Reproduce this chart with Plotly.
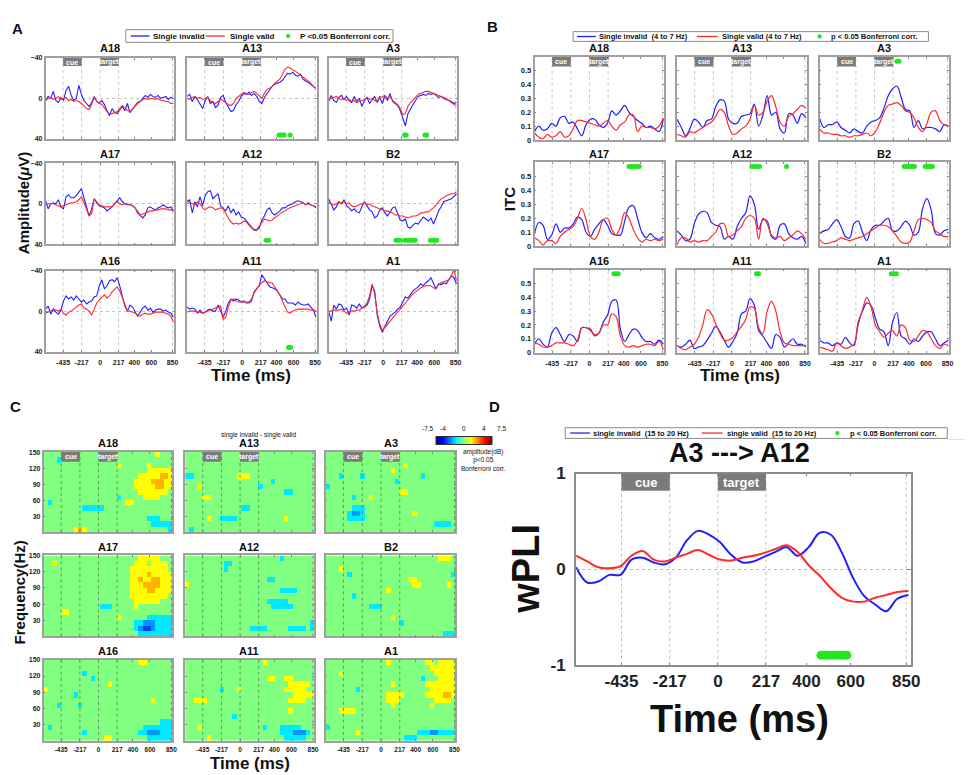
import plotly.graph_objects as go

W, H = 972, 775
FONT = "Liberation Sans"
BLUE = "#1f1fff"
RED = "#ff2a2a"
GREEN = "#22e622"
JET = [[0, "rgb(0,0,128)"], [0.125, "rgb(0,0,255)"], [0.375, "rgb(0,255,255)"],
       [0.5, "rgb(128,255,128)"], [0.625, "rgb(255,255,0)"], [0.875, "rgb(255,0,0)"],
       [1, "rgb(128,0,0)"]]

# time axes (ms)
TIME_ERP = list(range(-640, 861, 30))
TIME_ITC = list(range(-640, 861, 50))
TF_TIME_EDGES = list(range(-640, 861, 50))
TF_FREQ_EDGES = list(range(0, 151, 10))
TIME_TICKS = [-435, -217, 0, 217, 400, 600, 850]
EVENT_LINES = [-435, -217, 0, 217, 850]
CHANNELS = ["A18", "A13", "A3", "A17", "A12", "B2", "A16", "A11", "A1"]

#### A : ERP amplitude (uV), single invalid / single valid
ERP_A18_INV = [2, -2, 0, -7, 2, 4, -1, 2, -8, -12, -3, 2, 0, -13, -4, 2, 5, 8, 4, -2, 3, 5, 2, 6, 12,
               17, 10, 14, 15, 11, 8, 12, 5, 14, 10, 7, 4, 3, 0, -3, -1, -4, -2, -1, -3, 0, -1, -2, 1, -1, 0]
ERP_A18_VAL = [2, 0, -1, 1, 0, -2, 1, 0, -1, 2, 1, 3, 2, 3, 5, 7, 10, 11, 6, -1, 3, 5, 6, 10, 13,
               15, 15, 14, 13, 10, 7, 9, 12, 13, 10, 7, 5, 3, 1, 0, 1, 0, 0, 1, 0, 2, 2, 3, 3, 5, 5]
ERP_A13_INV = [-2, -4, 3, -2, 1, 5, 10, 2, -2, 5, 3, 9, 7, -1, -3, 4, 8, 13, 12, 6, 3, -2, -5, -4, -6,
               -3, -5, -2, 3, 5, -1, -5, -8, -12, -14, -15, -16, -18, -22, -25, -24, -26, -23, -22, -24,
               -19, -17, -16, -14, -12, -10]
ERP_A13_VAL = [0, 1, -1, -2, 0, -1, 1, 0, -1, 2, 4, 5, 3, 1, 2, 4, 6, 7, 5, 0, -2, -4, -6, -5, -4,
               -6, -7, -5, -2, 0, -5, -9, -10, -12, -15, -17, -19, -24, -29, -31, -30, -28, -27, -25, -23,
               -21, -19, -17, -15, -12, -10]
ERP_A3_INV = [3, -3, 2, 4, -1, -3, 1, -2, 2, 4, -2, 3, 0, 8, 2, -1, 5, 2, -2, 4, -1, 5, -3, 2, -5,
              3, 5, 7, 12, 20, 27, 15, 10, 6, 2, -2, -3, -4, -3, -5, -4, -5, -3, -1, -2, 0, 1, 2, 3, 5, 4]
ERP_A3_VAL = [1, 0, -1, -2, 0, 1, 0, 2, 1, 3, 2, 4, 3, 2, 1, -1, 1, 0, 2, 3, -2, -1, -3, 0, -2,
              2, 4, 6, 10, 16, 15, 8, 4, 1, -2, -4, -5, -6, -7, -7, -6, -5, -4, -3, -2, -1, 0, 2, 4, 6, 7]
ERP_A17_INV = [-3, 5, 0, -1, 0, -4, 3, 5, -7, -9, -6, -6, -8, -12, -15, -6, 4, 12, 5, -5, -1, 2, 3, 4, 7,
               5, 3, 0, -3, -6, -2, 0, 1, 1, 2, 4, 9, 12, 14, 11, 4, 3, 5, 6, 4, 3, 1, 3, 4, 3, 7]
ERP_A17_VAL = [0, 0, 0, 0, 1, 2, 3, 2, 1, 0, -1, -1, -2, -4, -7, -1, 5, 12, 10, -5, -2, 1, 2, 3, 3,
               3, 3, 0, -2, 0, 1, 0, 0, 1, 2, 4, 8, 11, 10, 9, 8, 7, 7, 6, 6, 5, 5, 5, 6, 6, 7]
ERP_A12_INV = [-2, -4, 9, -2, 3, -7, 2, -8, -12, -13, -5, -8, -10, 2, 5, 7, 2, 9, 5, 11, 8, 13, 14, 17, 19,
               22, 26, 26, 24, 16, 12, 6, 4, 9, 11, 9, 7, 4, 4, 2, 1, 0, -2, -3, -2, -1, 1, -1, 1, 2, 4]
ERP_A12_VAL = [-4, -1, 0, 1, -2, 0, 4, 6, 4, 3, 4, 6, 5, 4, 5, 10, 14, 18, 20, 19, 20, 19, 17, 18, 21,
               24, 25, 26, 22, 18, 15, 16, 17, 16, 14, 12, 10, 8, 7, 5, 4, 3, 2, 1, 0, -1, 1, 0, 1, 2, 3]
ERP_B2_INV = [-5, 0, 6, 3, -2, 0, -4, 2, 4, 7, 5, 8, 9, 3, -2, 2, 6, 8, 14, 12, 6, 4, 9, 12, 8,
              4, 3, 10, 16, 17, 15, 23, 24, 21, 19, 20, 16, 13, 15, 17, 14, 20, 14, 7, 3, -2, -3, -4, -5, -7, -10]
ERP_B2_VAL = [-2, 0, 1, 0, -2, -1, -2, 0, -1, 2, 3, 2, 1, 0, -1, 1, 0, 2, 3, 4, 5, 6, 7, 7, 8,
              9, 11, 11, 12, 12, 13, 14, 13, 12, 12, 11, 9, 9, 8, 8, 6, 4, 1, -2, -5, -6, -8, -9, -10, -10, -12]
ERP_A16_INV = [-2, -5, 3, -2, 1, 3, -1, -10, -15, -12, -14, -11, -15, -12, -9, -11, -7, -9, -10, -14, -15, -25, -31, -22, -25,
               -30, -31, -29, -33, -25, -15, -5, 0, -6, -4, 0, 5, 1, -3, -5, -1, -3, 1, -1, -2, -2, 0, -1, 1, 2, 6]
ERP_A16_VAL = [2, 1, 0, -2, -1, 0, -2, 2, 4, 1, 0, -2, -4, -6, -7, -3, -2, 0, 4, -3, -8, -11, -14, -16, -13,
               -15, -19, -22, -24, -20, -13, -6, 0, 0, 1, 2, 4, 5, 3, 2, 3, 3, 2, 1, 1, 1, 1, 2, 3, 5, 11]
ERP_A11_INV = [-4, -2, -3, -2, 2, -1, 2, 1, -1, -2, 0, 0, -6, 1, 6, 0, -8, -12, -10, -12, -11, -9, -10, -8, -8,
               -10, -19, -22, -25, -36, -32, -28, -24, -23, -22, -20, -16, -12, -12, -8, -8, -8, -6, -9, -7,
               -6, -6, -7, -4, -1, 6]
ERP_A11_VAL = [1, 0, 0, 0, 1, 1, 2, 1, 0, -1, -2, -3, -4, -5, 8, 6, -4, -11, -12, -10, -9, -9, -9, -9, -9,
               -12, -18, -22, -26, -28, -30, -29, -28, -28, -24, -21, -16, -10, -4, 1, 2, 0, -1, -2, -2,
               -2, -2, -2, -1, -1, 0]
ERP_A1_INV = [0, 10, -6, -2, -7, -6, -1, -3, 4, -6, -5, -3, -7, -3, -4, -6, -12, -25, -20, 4, 15, 21, 15, 10, 5,
              3, 1, -2, -4, -9, -14, -13, -17, -20, -22, -24, -27, -25, -28, -30, -33, -28, -22, -27, -26,
              -28, -27, -31, -35, -33, -27]
ERP_A1_VAL = [0, 0, -1, -1, -1, -2, 0, 2, 1, 0, 0, -1, -1, -3, -5, -8, -15, -27, -17, 2, 13, 19, 16, 13, 10,
              7, 3, 0, -2, -5, -8, -12, -14, -17, -19, -21, -23, -24, -25, -25, -25, -23, -22, -26, -28,
              -29, -30, -31, -35, -41, -30]

# times (ms) with p < 0.05
ERP_A18_SIG = []
ERP_A13_SIG = [430, 450, 470, 490, 560]
ERP_A3_SIG = [250, 270, 490, 510]
ERP_A17_SIG = []
ERP_A12_SIG = [280, 310]
ERP_B2_SIG = [150, 175, 195, 250, 275, 300, 325, 350, 375, 555, 580, 605, 630]
ERP_A16_SIG = []
ERP_A11_SIG = [540, 565]
ERP_A1_SIG = []

#### B : ITC 4-7 Hz
ITC_A18_INV = [.06, .10, .07, .08, .12, .10, .16, .17, .12, .13, .08, .03, .11, .15, .15, .11,
               .09, .12, .21, .18, .21, .25, .20, .17, .14, .12, .09, .10, .08, .06, .15]
ITC_A18_VAL = [.05, .02, .01, .04, .02, .03, .06, .02, .03, .08, .14, .14, .13, .12, .11, .10,
               .12, .14, .10, .07, .11, .13, .18, .18, .06, .10, .09, .09, .08, .10, .16]
ITC_A13_INV = [.15, .09, .03, .08, .15, .13, .09, .14, .15, .24, .29, .28, .15, .12, .12, .17,
               .18, .19, .26, .10, .18, .32, .18, .20, .08, .05, .19, .18, .12, .19, .16]
ITC_A13_VAL = [.04, .03, .02, .06, .05, .07, .09, .11, .13, .17, .22, .20, .10, .04, .05, .08,
               .10, .15, .25, .18, .20, .28, .32, .24, .13, .10, .17, .19, .22, .25, .23]
ITC_A3_INV = [.16, .09, .11, .11, .13, .09, .07, .05, .08, .06, .05, .10, .13, .14, .16, .23,
              .32, .37, .39, .31, .22, .21, .09, .14, .08, .09, .09, .08, .06, .11, .10]
ITC_A3_VAL = [.08, .05, .05, .04, .04, .03, .03, .02, .03, .03, .04, .05, .03, .06, .12, .20,
              .25, .26, .27, .25, .21, .20, .16, .09, .06, .12, .20, .21, .14, .11, .10]
ITC_A17_INV = [.09, .17, .15, .05, .08, .16, .10, .13, .13, .16, .21, .19, .10, .07, .12, .16,
               .19, .15, .09, .08, .08, .18, .28, .29, .20, .10, .06, .09, .06, .05, .07]
ITC_A17_VAL = [.06, .04, .01, .04, .04, .02, .07, .10, .12, .14, .20, .27, .19, .07, .05, .10,
               .19, .20, .12, .08, .14, .24, .20, .12, .06, .03, .05, .04, .05, .04, .05]
ITC_A12_INV = [.11, .08, .04, .05, .16, .23, .25, .24, .17, .15, .14, .05, .07, .05, .14, .20,
               .24, .36, .30, .12, .19, .18, .07, .05, .15, .16, .09, .06, .05, .07, .02]
ITC_A12_VAL = [.01, .06, .06, .03, .04, .03, .04, .04, .07, .10, .16, .16, .07, .08, .11, .14,
               .20, .22, .20, .05, .20, .16, .08, .06, .07, .04, .06, .08, .11, .09, .05]
ITC_B2_INV = [.09, .11, .12, .16, .19, .14, .07, .06, .16, .18, .10, .04, .12, .15, .15, .18,
              .20, .11, .11, .14, .18, .15, .08, .10, .27, .34, .26, .09, .08, .11, .12]
ITC_B2_VAL = [.05, .02, .02, .03, .04, .06, .05, .04, .05, .06, .07, .09, .11, .13, .15, .15,
              .14, .11, .07, .03, .02, .03, .11, .19, .20, .19, .17, .11, .09, .07, .07]
ITC_A16_INV = [.06, .10, .06, .04, .14, .18, .13, .08, .13, .12, .08, .18, .18, .17, .12, .14,
               .22, .27, .37, .38, .17, .08, .13, .17, .16, .11, .08, .08, .06, .09, .06]
ITC_A16_VAL = [.07, .06, .04, .04, .05, .07, .07, .07, .06, .05, .09, .18, .18, .16, .13, .14,
               .20, .20, .28, .26, .12, .05, .04, .05, .04, .05, .06, .06, .05, .08, .02]
ITC_A11_INV = [.05, .04, .06, .09, .03, .04, .05, .09, .14, .19, .15, .09, .04, .08, .14, .28,
               .30, .39, .34, .16, .12, .07, .03, .13, .11, .04, .07, .10, .06, .06, .04]
ITC_A11_VAL = [.05, .03, .02, .04, .06, .11, .20, .31, .28, .21, .14, .09, .09, .11, .15, .19,
               .24, .33, .32, .18, .14, .30, .37, .30, .15, .07, .06, .05, .05, .05, .05]
ITC_A1_INV = [.09, .07, .07, .05, .07, .06, .11, .07, .05, .22, .30, .36, .34, .25, .17, .15,
              .05, .22, .29, .12, .10, .06, .10, .08, .12, .15, .15, .10, .05, .07, .09]
ITC_A1_VAL = [.04, .03, .02, .01, .07, .05, .03, .04, .06, .20, .31, .40, .33, .20, .15, .11,
              .14, .16, .12, .20, .18, .09, .08, .12, .16, .15, .10, .05, .03, .06, .05]

ITC_A18_SIG = []
ITC_A13_SIG = []
ITC_A3_SIG = [260, 285]
ITC_A17_SIG = [460, 490, 520, 550, 580]
ITC_A12_SIG = [230, 260, 290, 320, 635]
ITC_B2_SIG = [345, 375, 405, 435, 465, 590, 620, 650, 675]
ITC_A16_SIG = [285, 310, 335]
ITC_A11_SIG = [285, 310]
ITC_A1_SIG = [195, 225, 255]

#### C : time-frequency difference maps (rows 150 Hz -> 0 Hz, 50 ms columns)
CELL_VALUES = {".": 0.0, "y": 1.9, "o": 3.0, "r": 4.5, "c": -2.2, "b": -3.4, "B": -4.6}

TF_A18 = [
    "..........................y...",
    "...c..........................",
    ".................y......y.....",
    "........................yyyyyy",
    "......................yyyyyooy",
    ".....................yyyyoooyy",
    ".....................yyyyyooyy",
    "......................yyyyyyy.",
    ".................c.....yyyy...",
    ".c.................yy.........",
    ".........ccccc................",
    "..............................",
    "........................ccc...",
    ".........................ccccc",
    ".......yoy...................c",
]
TF_A13 = [
    "...............y..............",
    "..............................",
    "..............................",
    "..............................",
    "cc..........yyy...............",
    "....................c.........",
    "...y.............c............",
    ".......................cc.....",
    "....yy........................",
    "..............................",
    ".............cc...............",
    "..............................",
    ".....y..cccc...........y......",
    "..............................",
    ".c............................",
]
TF_A3 = [
    "..............................",
    "..............................",
    "..................y...........",
    "...............y..............",
    "...c....c.............c.......",
    "................c.............",
    "c.............................",
    ".................yy...........",
    "......c...y...................",
    "..............................",
    "......ccc.....................",
    ".....cbbc...........y.........",
    ".....cccc.....................",
    ".........................cccc.",
    "..............................",
]
TF_A17 = [
    "......................yyyyy...",
    "..y..................yyy.yyyy.",
    "....................yyyyyyyyy.",
    "....................yyyyoyyyyy",
    "....................yyoyyooyyy",
    "....................yyyooooyyy",
    "....................yyyyooyyyy",
    "....................yyyyyyyyy.",
    ".....................yyyyyy...",
    ".............ccc.....y........",
    "....yy........................",
    ".................y......cccccc",
    ".....................ccbbbcccc",
    ".....................cbBBbcccc",
    "......................cccccccc",
]
TF_A12 = [
    "......................c.......",
    ".........cc...................",
    ".........c....................",
    "..............................",
    "...................cc.........",
    "y.............................",
    "......................cccc....",
    "..............................",
    "...................ccccc......",
    "....................ccccc.....",
    "..............................",
    "..............................",
    ".............................c",
    "...............cccc.....cccc.c",
    "..............................",
]
TF_B2 = [
    "..........................yyy.",
    "..............................",
    "...y..........................",
    ".....c.......................c",
    "...................yy.........",
    "....................yy......y.",
    "..............y...............",
    "......c.......................",
    "..............................",
    "..........ccc.................",
    "..............................",
    "...............y..............",
    ".................c............",
    "..............................",
    "...........................ccc",
]
TF_A16 = [
    "......................yy......",
    "..............................",
    ".........c....................",
    "...........c..................",
    "...............y..............",
    "y.............................",
    ".......c......................",
    ".........................y....",
    "...c....c.....................",
    "..............................",
    "..............................",
    "...........................ccc",
    ".c.....................ccccccc",
    ".........c............ccbbbccc",
    "..............yy........cccccc",
]
TF_A11 = [
    "..................y...........",
    "..............................",
    "..............................",
    "...................yy..yy.....",
    "........................yyyyy.",
    "........c...y..........yyyyy..",
    ".........................yyyyy",
    "..yyy...................yyyy..",
    "..............................",
    "........................y.....",
    "...........c..................",
    "..............................",
    "...y..............c...ccccc...",
    "......................cccbbbc.",
    ".....y.................ccccc..",
]
TF_A1 = [
    "..............y........yy.yyyy",
    "........................yyyyyy",
    "...y.....................yyyyy",
    "......................c...yyyy",
    "...............y.......yyyyyyy",
    ".......c................yyyyyy",
    "..............yyyy.....yyyyooy",
    "..............yyy........yyyy.",
    "...............y........y.....",
    "...yyyy.......................",
    "..............................",
    "..............................",
    "c.............................",
    ".......y.............cccbbcccc",
    "..................ccc.........",
]

#### D : wPLI A3 ---> A12 (15-20 Hz)
WPLI_INV = [.02, -.14, -.13, -.06, -.06, .10, .12, .07, .05, .12, .30, .40, .36, .28, .15, .07,
            .08, .13, .18, .23, .14, .23, .38, .36, .17, -.09, -.28, -.37, -.44, -.31, -.27]
WPLI_VAL = [.14, .08, .02, .01, .03, .14, .19, .10, .08, .12, .16, .20, .15, .10, .09, .12,
            .14, .17, .21, .25, .18, .04, -.07, -.20, -.30, -.34, -.34, -.30, -.27, -.24, -.23]
WPLI_SIG = [465, 480, 495, 510, 525, 540, 555, 570, 582]

ERP_SETS = [
    (ERP_A18_INV, ERP_A18_VAL, ERP_A18_SIG), (ERP_A13_INV, ERP_A13_VAL, ERP_A13_SIG),
    (ERP_A3_INV, ERP_A3_VAL, ERP_A3_SIG), (ERP_A17_INV, ERP_A17_VAL, ERP_A17_SIG),
    (ERP_A12_INV, ERP_A12_VAL, ERP_A12_SIG), (ERP_B2_INV, ERP_B2_VAL, ERP_B2_SIG),
    (ERP_A16_INV, ERP_A16_VAL, ERP_A16_SIG), (ERP_A11_INV, ERP_A11_VAL, ERP_A11_SIG),
    (ERP_A1_INV, ERP_A1_VAL, ERP_A1_SIG),
]
ITC_SETS = [
    (ITC_A18_INV, ITC_A18_VAL, ITC_A18_SIG), (ITC_A13_INV, ITC_A13_VAL, ITC_A13_SIG),
    (ITC_A3_INV, ITC_A3_VAL, ITC_A3_SIG), (ITC_A17_INV, ITC_A17_VAL, ITC_A17_SIG),
    (ITC_A12_INV, ITC_A12_VAL, ITC_A12_SIG), (ITC_B2_INV, ITC_B2_VAL, ITC_B2_SIG),
    (ITC_A16_INV, ITC_A16_VAL, ITC_A16_SIG), (ITC_A11_INV, ITC_A11_VAL, ITC_A11_SIG),
    (ITC_A1_INV, ITC_A1_VAL, ITC_A1_SIG),
]
TF_SETS = [TF_A18, TF_A13, TF_A3, TF_A17, TF_A12, TF_B2, TF_A16, TF_A11, TF_A1]

# panel placement in pixels
A_COLS = [(38, 168), (181, 312), (324, 454)]
A_ROWS = [(42, 125), (150, 233), (260, 343)]
B_COLS = [(532, 663), (676, 807), (820, 951)]
B_ROWS = [(41, 126), (149, 235), (259, 344)]
C_COLS = [(36, 166), (179, 309), (321, 452)]
C_ROWS = [(446, 528), (552, 635), (659, 742)]
AB_TITLE_Y = [32, 140, 250]
C_TITLE_Y = [437, 543, 650]

fig = go.Figure()
axes = {}
shapes = []
annotations = []
counter = [0]


def text(x, y, s, size, angle=0, anchor="center", color="#111111"):
    annotations.append(dict(x=x / W, y=1 - y / H, xref="paper", yref="paper", text=s,
                            showarrow=False, textangle=angle, xanchor=anchor, yanchor="middle",
                            borderpad=0, font=dict(family=FONT, size=size, color=color)))


def new_axes(cols, rows, xaxis, yaxis):
    counter[0] += 1
    n = counter[0]
    sfx = "" if n == 1 else str(n)
    x0, x1 = cols
    y0, y1 = rows
    axes["xaxis" + sfx] = dict(domain=[x0 / W, x1 / W], anchor="y" + sfx, **xaxis)
    axes["yaxis" + sfx] = dict(domain=[1 - y1 / H, 1 - y0 / H], anchor="x" + sfx, **yaxis)
    return "x" + sfx, "y" + sfx


def time_axis(show_labels, size=7, xmax=870, line="#a0a0a0", lw=1.5, standoff=3):
    return dict(range=[-640, xmax], tickvals=TIME_TICKS, ticktext=[str(v) for v in TIME_TICKS],
                showticklabels=show_labels, ticks="inside", ticklen=2, tickcolor="#888888",
                tickfont=dict(family=FONT, size=size, color="#222222", weight="bold"),
                showgrid=False, zeroline=False, showline=True, mirror="ticks",
                linecolor=line, linewidth=lw, ticklabelstandoff=standoff)


def event_lines(xr, yr, color, dash, layer, width=1):
    for v in EVENT_LINES:
        shapes.append(dict(type="line", xref=xr, yref=yr + " domain", x0=v, x1=v, y0=0, y1=1,
                           line=dict(color=color, width=width, dash=dash), layer=layer))


def cue_boxes(xr, yr, y0, size):
    for a, b, label in [(-435, -217, "cue"), (0, 217, "target")]:
        shapes.append(dict(type="rect", xref=xr, yref=yr + " domain", x0=a, x1=b, y0=y0, y1=1,
                           fillcolor="#7b7b7b", line=dict(width=0), layer="above"))
        annotations.append(dict(xref=xr, yref=yr + " domain", x=(a + b) / 2, y=(y0 + 1) / 2,
                                xanchor="center", yanchor="middle", borderpad=0,
                                text="<b>" + label + "</b>", showarrow=False,
                                font=dict(family=FONT, size=size, color="white")))


def legend(box, blue, red, dot, labels, size):
    x0, x1, y0, y1 = box
    ym = 1 - (y0 + y1) / 2 / H
    shapes.append(dict(type="rect", xref="paper", yref="paper", x0=x0 / W, x1=x1 / W,
                       y0=1 - y1 / H, y1=1 - y0 / H, line=dict(color="#8a8a8a", width=1),
                       fillcolor="white", layer="above"))
    for (a, b), col in [(blue, BLUE), (red, RED)]:
        shapes.append(dict(type="line", xref="paper", yref="paper", x0=a / W, x1=b / W, y0=ym, y1=ym,
                           line=dict(color=col, width=1.3), layer="above"))
    r = 2.2
    shapes.append(dict(type="circle", xref="paper", yref="paper", x0=(dot - r) / W, x1=(dot + r) / W,
                       y0=ym - r / H, y1=ym + r / H, fillcolor=GREEN, line=dict(width=0), layer="above"))
    for xpos, s in labels:
        text(xpos, (y0 + y1) / 2, "<b>" + s + "</b>", size, anchor="left")


def main():
    # ---------------- A : ERP ----------------
    for i, name in enumerate(CHANNELS):
        r, c = divmod(i, 3)
        inv, val, sig = ERP_SETS[i]
        xr, yr = new_axes(A_COLS[c], A_ROWS[r], time_axis(r == 2),
                          dict(range=[40, -40], tickvals=[-40, 0, 40], showticklabels=(c == 0),
                               tickfont=dict(family=FONT, size=7, color="#222222", weight="bold"),
                               ticks="inside", ticklen=2, tickcolor="#888888",
                               showgrid=True, gridcolor="#c4c4c4", griddash="dot", gridwidth=1,
                               zeroline=False, showline=True, mirror="ticks",
                               linecolor="#a0a0a0", linewidth=1.5))
        event_lines(xr, yr, "#c8c8c8", "dot", "below")
        if r == 0:
            cue_boxes(xr, yr, 0.9, 7)
        fig.add_trace(go.Scatter(x=TIME_ERP, y=inv, mode="lines", line=dict(color=BLUE, width=1.1),
                                 xaxis=xr, yaxis=yr, showlegend=False))
        fig.add_trace(go.Scatter(x=TIME_ERP, y=val, mode="lines", line=dict(color=RED, width=1.1),
                                 xaxis=xr, yaxis=yr, showlegend=False))
        if sig:
            fig.add_trace(go.Scatter(x=sig, y=[36] * len(sig), mode="markers",
                                     marker=dict(color=GREEN, size=5), xaxis=xr, yaxis=yr,
                                     showlegend=False))
        text((A_COLS[c][0] + A_COLS[c][1]) / 2, AB_TITLE_Y[r], "<b>" + name + "</b>", 11)

    legend((119, 389, 13, 26), (124, 143), (200, 219), 283,
           [(145, "Single invalid"), (223, "Single valid"), (294, "P <0.05 Bonferroni corr.")], 8)
    text(10, 12, "<b>A</b>", 15)
    text(15, 191, "<b>Amplitude(<i>\u03bc</i>V)</b>", 15, angle=-90)
    text(246, 367, "<b>Time (ms)</b>", 17)

    # ---------------- B : ITC ----------------
    for i, name in enumerate(CHANNELS):
        r, c = divmod(i, 3)
        inv, val, sig = ITC_SETS[i]
        xr, yr = new_axes(B_COLS[c], B_ROWS[r], time_axis(r == 2),
                          dict(range=[0, 0.6], tickvals=[0, 0.1, 0.2, 0.3, 0.4, 0.5],
                               ticktext=["0", "0.1", "0.2", "0.3", "0.4", "0.5"],
                               showticklabels=(c == 0),
                               tickfont=dict(family=FONT, size=7.5, color="#222222", weight="bold"),
                               ticks="inside", ticklen=2, tickcolor="#888888",
                               showgrid=False, zeroline=False, showline=True, mirror="ticks",
                               linecolor="#a0a0a0", linewidth=1.5))
        event_lines(xr, yr, "#c8c8c8", "dot", "below")
        if r == 0:
            cue_boxes(xr, yr, 0.886, 7)
        fig.add_trace(go.Scatter(x=TIME_ITC, y=inv, mode="lines", line=dict(color=BLUE, width=1.2, shape="spline"),
                                 xaxis=xr, yaxis=yr, showlegend=False))
        fig.add_trace(go.Scatter(x=TIME_ITC, y=val, mode="lines", line=dict(color=RED, width=1.2, shape="spline"),
                                 xaxis=xr, yaxis=yr, showlegend=False))
        if sig:
            fig.add_trace(go.Scatter(x=sig, y=[0.57] * len(sig), mode="markers",
                                     marker=dict(color=GREEN, size=5), xaxis=xr, yaxis=yr,
                                     showlegend=False))
        text((B_COLS[c][0] + B_COLS[c][1]) / 2, AB_TITLE_Y[r], "<b>" + name + "</b>", 11)

    legend((571, 930, 15, 25), (575, 594), (696, 717), 820,
           [(596, "Single invalid  (4 to 7 Hz)"), (720, "Single valid (4 to 7 Hz)"),
            (831, "p < 0.05 Bonferroni corr.")], 7.5)
    text(490, 10, "<b>B</b>", 15)
    text(507, 187, "<b>ITC</b>", 15, angle=-90)
    text(740, 367, "<b>Time (ms)</b>", 17)

    # ---------------- C : time-frequency ----------------
    for i, name in enumerate(CHANNELS):
        r, c = divmod(i, 3)
        rows = TF_SETS[i]
        z = [[CELL_VALUES[ch] for ch in row] for row in reversed(rows)]
        xr, yr = new_axes(C_COLS[c], C_ROWS[r], time_axis(r == 2, size=6.5, xmax=860, standoff=2),
                          dict(range=[0, 150], tickvals=[30, 60, 90, 120, 150],
                               showticklabels=(c == 0),
                               tickfont=dict(family=FONT, size=7, color="#222222", weight="bold"),
                               ticks="inside", ticklen=2, tickcolor="#888888",
                               showgrid=False, zeroline=False, showline=True, mirror="ticks",
                               linecolor="#a0a0a0", linewidth=1.5))
        fig.add_trace(go.Heatmap(x=TF_TIME_EDGES, y=TF_FREQ_EDGES, z=z, coloraxis="coloraxis",
                                 xaxis=xr, yaxis=yr, hoverinfo="skip"))
        event_lines(xr, yr, "#5f9a58", "dot", "above")
        if r == 0:
            cue_boxes(xr, yr, 0.88, 7)
        text((C_COLS[c][0] + C_COLS[c][1]) / 2, C_TITLE_Y[r], "<b>" + name + "</b>", 11)

    text(8, 399, "<b>C</b>", 15)
    text(12, 590, "<b>Frequency(Hz)</b>", 15, angle=-90)
    text(245, 765, "<b>Time (ms)</b>", 17)
    text(254, 429, "single invalid - single valid", 6.5)
    for v, xpos in [("-7.5", 424), ("-4", 440), ("0", 461), ("4", 481), ("7.5", 499)]:
        text(xpos, 422, v, 6.5)
    text(480, 454, "amplitude(dB)<br>p<0.05<br>Bonferroni corr.", 6.5)

    # ---------------- D : wPLI ----------------
    xr, yr = new_axes((574, 912), (468, 664),
                      time_axis(True, size=17, line="#8c8c8c", lw=2, standoff=0),
                      dict(range=[-1, 1], tickvals=[-1, 0, 1], ticktext=["-1", "0", "1"],
                           tickfont=dict(family=FONT, size=17, color="#222222", weight="bold"),
                           ticks="inside", ticklen=4, tickcolor="#888888", ticklabelstandoff=5,
                           showgrid=True, gridcolor="#bdbdbd", griddash="dot", gridwidth=1,
                           zeroline=False, showline=True, mirror="ticks",
                           linecolor="#8c8c8c", linewidth=2))
    event_lines(xr, yr, "#bdbdbd", "dot", "below")
    cue_boxes(xr, yr, 0.91, 13)
    fig.add_trace(go.Scatter(x=TIME_ITC, y=WPLI_INV, mode="lines", line=dict(color=BLUE, width=2, shape="spline"),
                             xaxis=xr, yaxis=yr, showlegend=False))
    fig.add_trace(go.Scatter(x=TIME_ITC, y=WPLI_VAL, mode="lines", line=dict(color=RED, width=2, shape="spline"),
                             xaxis=xr, yaxis=yr, showlegend=False))
    fig.add_trace(go.Scatter(x=WPLI_SIG, y=[-0.9] * len(WPLI_SIG), mode="markers",
                             marker=dict(color=GREEN, size=9), xaxis=xr, yaxis=yr, showlegend=False))

    legend((563, 949, 421, 432), (568, 588), (701, 722), 838,
           [(590, "single invalid  (15 to 20 Hz)"), (725, "single valid  (15 to 20 Hz)"),
            (850, "p < 0.05 Bonferroni corr.")], 7.5)
    shapes.append(dict(type="line", xref="paper", yref="paper", x0=949 / W, x1=1, y0=1 - 433 / H,
                       y1=1 - 433 / H, line=dict(color="#dddddd", width=1)))
    text(492, 399, "<b>D</b>", 15)
    text(739, 447, "<b>A3 ---> A12</b>", 27)
    text(524, 566, "<b>wPLI</b>", 38, angle=-90)
    text(739, 720, "<b>Time (ms)</b>", 38)

    fig.update_layout(axes)
    fig.update_layout(
        width=W, height=H, margin=dict(l=0, r=0, t=0, b=0),
        paper_bgcolor="white", plot_bgcolor="white", showlegend=False,
        shapes=shapes, annotations=annotations,
        coloraxis=dict(colorscale=JET, cmin=-7.5, cmax=7.5,
                       colorbar=dict(orientation="h", x=461 / W, xanchor="center", y=1 - 435 / H,
                                     yanchor="middle", len=76, lenmode="pixels", thickness=8,
                                     thicknessmode="pixels", showticklabels=False, ticks="",
                                     outlinewidth=1, outlinecolor="#333333")),
    )
    fig.write_html("out.html")


if __name__ == "__main__":
    main()
